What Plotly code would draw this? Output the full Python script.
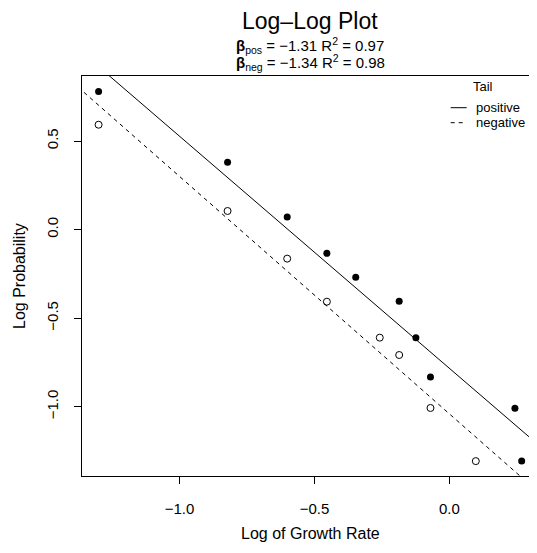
import plotly.graph_objects as go

# ---- data ----
pos_x = [-1.300, -0.822, -0.601, -0.454, -0.347, -0.186, -0.124, -0.070, 0.243, 0.268]
pos_y = [0.779, 0.380, 0.071, -0.134, -0.269, -0.405, -0.610, -0.832, -1.009, -1.307]
neg_x = [-1.300, -0.822, -0.601, -0.454, -0.258, -0.186, -0.070, 0.098]
neg_y = [0.592, 0.105, -0.164, -0.407, -0.610, -0.708, -1.007, -1.307]

beta_pos, icpt_pos, r2_pos = -1.31, -0.783, 0.97
beta_neg, icpt_neg, r2_neg = -1.34, -1.040, 0.98

x_ticks = [-1.0, -0.5, 0.0]
y_ticks = [-1.0, -0.5, 0.0, 0.5]
legend_labels = ["positive", "negative"]

# ---- layout geometry (page pixels; the page body has an 8px margin) ----
OFF = 8
W, H = 537, 553
PL, PR, PT, PB = 82, 537, 76, 476          # plot area edges in page pixels
L, T = PL - OFF, PT - OFF
R = W - (PR - OFF)
B = H - (PB - OFF)
pw, ph = PR - PL, PB - PT
xr = [-1.3615, 0.3248]
yr = [-1.391, 0.867]

def px_x(p):
    return (p - PL) / pw

def px_y(p):
    return (PB - p) / ph

FONT = "Liberation Sans, Arial, Helvetica, sans-serif"

fig = go.Figure()

line_x = [-2.0, 1.0]
fig.add_trace(go.Scatter(x=line_x, y=[icpt_pos + beta_pos * v for v in line_x], mode="lines",
                         line=dict(color="black", width=1), showlegend=False, hoverinfo="skip"))
fig.add_trace(go.Scatter(x=line_x, y=[icpt_neg + beta_neg * v for v in line_x], mode="lines",
                         line=dict(color="black", width=1, dash="4px,4px"), showlegend=False, hoverinfo="skip"))
fig.add_trace(go.Scatter(x=pos_x, y=pos_y, mode="markers",
                         marker=dict(symbol="circle", size=7, color="black", line=dict(width=0)),
                         showlegend=False, cliponaxis=False))
fig.add_trace(go.Scatter(x=neg_x, y=neg_y, mode="markers",
                         marker=dict(symbol="circle-open", size=7, color="black", line=dict(width=1, color="black")),
                         showlegend=False, cliponaxis=False))

axis_common = dict(showgrid=False, zeroline=False, showline=True, linecolor="black", linewidth=1,
                   ticks="outside", ticklen=7, tickwidth=1, tickcolor="black",
                   tickfont=dict(family=FONT, size=15, color="black"), tickformat=".1f")

fig.update_layout(
    width=W, height=H,
    margin=dict(l=L, r=R, t=T, b=B, pad=0),
    paper_bgcolor="white", plot_bgcolor="white",
    font=dict(family=FONT, color="black"),
    xaxis=dict(range=xr, tickvals=x_ticks, mirror=True, ticklabelstandoff=12, **axis_common),
    yaxis=dict(range=yr, tickvals=y_ticks, mirror=False, tickangle=-90, ticklabelstandoff=10, **axis_common),
    showlegend=False,
)

ann = []
ann.append(dict(text="Log\u2013Log Plot", x=px_x(310), y=px_y(21), xref="paper", yref="paper",
                showarrow=False, font=dict(size=23, family=FONT), xanchor="center", yanchor="middle"))
ann.append(dict(text=f"<b>\u03b2</b><sub>pos</sub> = \u2212{abs(beta_pos):.2f} R<sup>2</sup> = {r2_pos:.2f}",
                x=px_x(310), y=px_y(45), xref="paper", yref="paper", showarrow=False,
                font=dict(size=15, family=FONT), xanchor="center", yanchor="middle"))
ann.append(dict(text=f"<b>\u03b2</b><sub>neg</sub> = \u2212{abs(beta_neg):.2f} R<sup>2</sup> = {r2_neg:.2f}",
                x=px_x(310), y=px_y(62), xref="paper", yref="paper", showarrow=False,
                font=dict(size=15, family=FONT), xanchor="center", yanchor="middle"))
ann.append(dict(text="Log of Growth Rate", x=px_x(310), y=px_y(533), xref="paper", yref="paper",
                showarrow=False, font=dict(size=16, family=FONT), xanchor="center", yanchor="middle"))
ann.append(dict(text="Log Probability", x=px_x(19), y=px_y(276), xref="paper", yref="paper",
                showarrow=False, textangle=-90, font=dict(size=16, family=FONT), xanchor="center", yanchor="middle"))
# legend
LX = -6
ann.append(dict(text="Tail", x=px_x(488.5 + LX), y=px_y(86), xref="paper", yref="paper",
                showarrow=False, font=dict(size=13, family=FONT), xanchor="center", yanchor="middle"))
shapes = []
for i, (lab, dash) in enumerate(zip(legend_labels, ["solid", "4px,4px"])):
    yy = 107.7 + 15 * i
    ann.append(dict(text=lab, x=px_x(480 + LX), y=px_y(yy), xref="paper", yref="paper",
                    showarrow=False, font=dict(size=13, family=FONT), xanchor="left", yanchor="middle"))
    shapes.append(dict(type="line", xref="paper", yref="paper", x0=px_x(456.7 + LX), x1=px_x(472.7 + LX),
                       y0=px_y(yy), y1=px_y(yy), line=dict(color="black", width=1, dash=dash)))

fig.update_layout(annotations=ann, shapes=shapes)
fig.write_html("out.html")
